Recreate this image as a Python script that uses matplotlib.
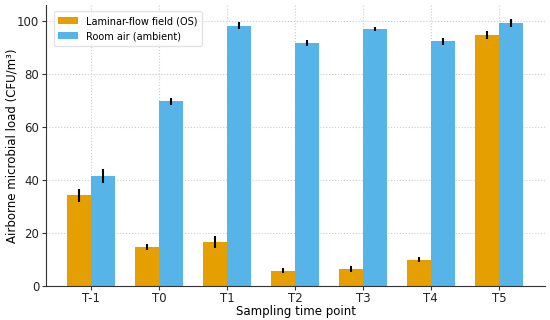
import matplotlib
matplotlib.use("Agg")
import matplotlib.pyplot as plt
import numpy as np

# sampling time points and microbial load (CFU/m3)
points = ["T-1", "T0", "T1", "T2", "T3", "T4", "T5"]
os_mean = [34.2, 14.8, 16.6, 5.8, 6.5, 9.9, 94.7]
os_err = [2.6, 1.0, 2.4, 0.9, 1.0, 0.9, 1.6]
room_mean = [41.6, 69.7, 98.3, 91.7, 96.9, 92.3, 99.2]
room_err = [2.6, 1.3, 1.3, 1.3, 0.8, 1.4, 1.6]

x = np.arange(len(points))
w = 0.35

fig = plt.figure(figsize=(5.5, 3.2), dpi=100)
ax = fig.add_axes([0.084, 0.106, 0.907, 0.878])

ax.bar(x - w / 2, os_mean, w, yerr=os_err, color="#E69F00",
       error_kw=dict(ecolor="black", elinewidth=1.5, capsize=0),
       label="Laminar-flow field (OS)", zorder=2)
ax.bar(x + w / 2, room_mean, w, yerr=room_err, color="#56B4E9",
       error_kw=dict(ecolor="black", elinewidth=1.5, capsize=0),
       label="Room air (ambient)", zorder=2)

ax.set_xticks(x)
ax.set_xticklabels(points)
ax.set_xlim(-0.66, 6.68)
ax.set_ylim(0, 106)
ax.set_yticks([0, 20, 40, 60, 80, 100])
ax.tick_params(labelsize=8.5, length=3, pad=2, colors="#333333", labelcolor="#222222")
ax.tick_params(axis="x", pad=1.5)
ax.grid(True, linestyle=":", color="#cccccc", linewidth=0.8, zorder=0)
ax.set_axisbelow(True)
for s in ["top", "right"]:
    ax.spines[s].set_visible(False)
for s in ["left", "bottom"]:
    ax.spines[s].set_color("#333333")

ax.set_xlabel("Sampling time point", fontsize=8.5, va="center")
ax.xaxis.set_label_coords(0.5, -0.092)
ax.set_ylabel("Airborne microbial load (CFU/m³)", fontsize=8.5, va="center")
ax.yaxis.set_label_coords(-0.068, 0.5)
ax.legend(loc="upper left", fontsize=7, frameon=True, framealpha=0.8,
          edgecolor="#dddddd", handlelength=2.0, borderpad=0.5,
          bbox_to_anchor=(0.005, 0.995))

fig.savefig("out.png", dpi=100)
